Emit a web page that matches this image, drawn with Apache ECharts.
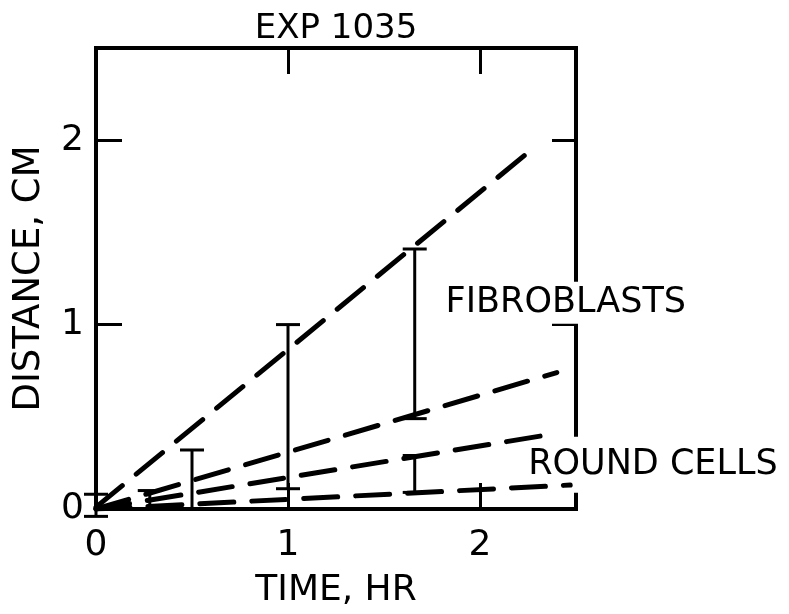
<!DOCTYPE html>
<html><head><meta charset="utf-8">
<script src="https://cdn.jsdelivr.net/npm/echarts@6/dist/echarts.min.js"></script>
<style>html,body{margin:0;padding:0;background:#fff}#c{width:789px;height:614px}</style>
</head><body><div id="c"></div>
<script>
// ---- data ----
const titleText = 'EXP 1035';
const xName = 'TIME, HR';
const yName = 'DISTANCE, CM';
const axisMin = 0, axisMax = 2.5, axisStep = 1;
// dashed lines: endpoints [time, distance]
const fibroUpper = [[0, 0.01], [2.27, 1.95]];
const fibroLower = [[0, 0.00], [2.40, 0.74]];
const roundUpper = [[0, 0.00], [2.40, 0.41]];
const roundLower = [[0, 0.00], [2.47, 0.13]];
// error bars
const errX    = [0,     0.28, 0.5,  1,    1.66, 1.66];
const errLow  = [-0.04, 0,    0,    0.11, 0.49, 0.09];
const errHigh = [0.08,  0.10, 0.32, 1.0,  1.41, 0.29];
// annotations: text, anchor [time, distance] (left-middle of text)
const noteText = ['FIBROBLASTS', 'ROUND CELLS'];
const noteAt = [[1.80, 1.118], [2.23, 0.24]];

// ---- chart ----
const FONT = 'DejaVu Sans';
const BLACK = '#000';
const chart = echarts.init(document.getElementById('c'), null, {renderer: 'canvas'});
const intLabel = v => (Math.abs(v - Math.round(v)) < 1e-9 ? String(Math.round(v)) : '');
function baseAxis(extra) {
  return Object.assign({
    type: 'value', min: axisMin, max: axisMax, interval: axisStep,
    splitLine: {show: false},
    axisLine: {show: true, onZero: false, lineStyle: {color: BLACK, width: 4, cap: 'square'}},
    axisTick: {show: true, inside: true, length: 26, lineStyle: {color: BLACK, width: 3}},
    axisLabel: {show: false}
  }, extra);
}
const dashStyle = {color: BLACK, width: 5, type: [34, 18], cap: 'round'};
function lineSeries(data) {
  return {type: 'line', data: data, symbol: 'none', lineStyle: dashStyle, silent: true, z: 3};
}
const option = {
  animation: false,
  backgroundColor: '#fff',
  grid: {left: 96, right: 213, top: 48, bottom: 97, show: false},
  xAxis: [
    baseAxis({position: 'bottom',
      name: xName, nameLocation: 'middle', nameGap: 64,
      nameTextStyle: {fontFamily: FONT, fontSize: 36, color: BLACK},
      axisLabel: {show: true, margin: 19, fontFamily: FONT, fontSize: 36, color: BLACK,
                  formatter: intLabel, showMaxLabel: false}}),
    baseAxis({position: 'top',
      name: titleText, nameLocation: 'middle', nameGap: 2,
      nameTextStyle: {fontFamily: FONT, fontSize: 34, color: BLACK}})
  ],
  yAxis: [
    baseAxis({position: 'left',
      name: yName, nameLocation: 'middle', nameGap: 48,
      nameTextStyle: {fontFamily: FONT, fontSize: 37, color: BLACK},
      axisLabel: {show: true, margin: 12, fontFamily: FONT, fontSize: 36, color: BLACK,
                  formatter: intLabel, showMaxLabel: false}}),
    baseAxis({position: 'right', axisTick: {show: true, inside: true, length: 24, lineStyle: {color: BLACK, width: 3}}})
  ],
  series: [
    lineSeries(fibroUpper),
    lineSeries(fibroLower),
    lineSeries(roundUpper),
    lineSeries(roundLower),
    {
      type: 'custom', z: 4, clip: false,
      data: errX.map((x, i) => [x, errLow[i], errHigh[i]]),
      encode: {x: 0, y: [1, 2]},
      renderItem: function (params, api) {
        const x = api.value(0);
        const top = api.coord([x, api.value(2)]);
        const bot = api.coord([x, api.value(1)]);
        const hw = 12;
        const st = {stroke: BLACK, lineWidth: 3};
        return {type: 'group', children: [
          {type: 'line', shape: {x1: top[0], y1: top[1], x2: bot[0], y2: bot[1]}, style: st},
          {type: 'line', shape: {x1: top[0] - hw, y1: top[1], x2: top[0] + hw, y2: top[1]}, style: st},
          {type: 'line', shape: {x1: bot[0] - hw, y1: bot[1], x2: bot[0] + hw, y2: bot[1]}, style: st}
        ]};
      }
    }
  ]
};
chart.setOption(option);
const pads = [[4, 6, 2, 4], [10, 6, 10, 4]];
chart.setOption({
  graphic: noteText.map((t, i) => {
    const p = chart.convertToPixel({xAxisIndex: 0, yAxisIndex: 0}, noteAt[i]);
    return {type: 'text', z: 1, x: p[0], y: p[1], silent: true,
      style: {text: t, font: '35px "' + FONT + '"', fill: BLACK, verticalAlign: 'middle',
              align: 'left', lineHeight: 36, backgroundColor: '#fff', padding: pads[i]}};
  })
});
</script></body></html>
